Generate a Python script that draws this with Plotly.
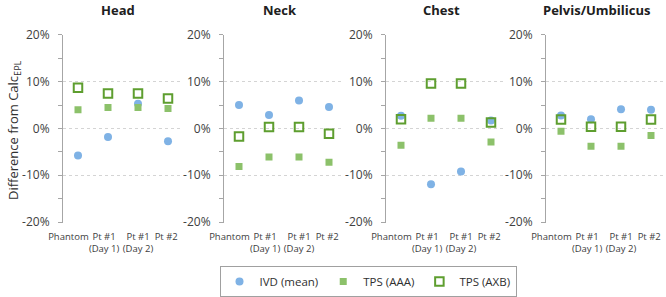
import plotly.graph_objects as go

panels = ["Head", "Neck", "Chest", "Pelvis/Umbilicus"]
categories = ["Phantom", "Pt #1<br>(Day 1)", "Pt #1<br>(Day 2)", "Pt #2"]

ivd_mean = {
    "Head": [-5.8, -1.8, 5.3, -2.7],
    "Neck": [5.0, 2.9, 6.0, 4.6],
    "Chest": [2.7, -11.9, -9.2, 1.7],
    "Pelvis/Umbilicus": [2.8, 2.0, 4.1, 4.0],
}
tps_aaa = {
    "Head": [4.0, 4.5, 4.5, 4.3],
    "Neck": [-8.1, -6.1, -6.1, -7.2],
    "Chest": [-3.6, 2.2, 2.2, -2.9],
    "Pelvis/Umbilicus": [-0.6, -3.8, -3.8, -1.5],
}
tps_axb = {
    "Head": [8.7, 7.5, 7.5, 6.4],
    "Neck": [-1.7, 0.3, 0.3, -1.1],
    "Chest": [2.0, 9.6, 9.6, 1.3],
    "Pelvis/Umbilicus": [1.9, 0.4, 0.4, 1.9],
}
y_tick_values = [-20, -10, 0, 10, 20]
y_tick_labels = ["-20%", "-10%", "0%", "10%", "20%"]

W, H = 666, 297
x_px = [(63, 183), (224, 344), (386, 506), (546, 666)]
title_cx = [118, 280, 441, 596]
y_px = (34.5, 222.5)
label_shift = [-0.32, -0.13, 0, -0.06]

fig = go.Figure()
FONT = "Open Sans"
c_ivd = "#7FB2E5"
c_aaa = "#8CC16A"
c_axb = "#5E9E2F"

for i, p in enumerate(panels):
    xa = "x" if i == 0 else f"x{i+1}"
    ya = "y" if i == 0 else f"y{i+1}"
    xs = list(range(len(categories)))
    fig.add_trace(go.Scatter(x=xs, y=ivd_mean[p], mode="markers", name="IVD (mean)",
                             marker=dict(symbol="circle", size=8, color=c_ivd),
                             xaxis=xa, yaxis=ya, showlegend=(i == 0), legendgroup="ivd"))
    fig.add_trace(go.Scatter(x=xs, y=tps_aaa[p], mode="markers", name="TPS (AAA)",
                             marker=dict(symbol="square", size=7, color=c_aaa),
                             xaxis=xa, yaxis=ya, showlegend=(i == 0), legendgroup="aaa"))
    fig.add_trace(go.Scatter(x=xs, y=tps_axb[p], mode="markers", name="TPS (AXB)",
                             marker=dict(symbol="square-open", size=8.5, color=c_axb,
                                         line=dict(width=2, color=c_axb)),
                             xaxis=xa, yaxis=ya, showlegend=(i == 0), legendgroup="axb"))
    x0, x1 = x_px[i]
    dom_x = [x0 / W, x1 / W]
    dom_y = [(H - y_px[1]) / H, (H - y_px[0]) / H]
    xkey = "xaxis" if i == 0 else f"xaxis{i+1}"
    ykey = "yaxis" if i == 0 else f"yaxis{i+1}"
    fig.layout[xkey] = dict(domain=dom_x, anchor=ya, range=[-0.5, 3.5],
                            tickmode="array", automargin=False, tickangle=0,
                            tickvals=[k + s for k, s in zip(xs, label_shift)],
                            ticktext=categories, showgrid=False, zeroline=False,
                            showline=False, ticks="", ticklabelstandoff=7,
                            tickfont=dict(family=FONT, size=9.5, color="#404040"))
    fig.layout[ykey] = dict(domain=dom_y, anchor=xa, range=[-20.1, 20.1],
                            tickmode="array", tickvals=y_tick_values, ticktext=y_tick_labels,
                            automargin=False,
                            showgrid=True, gridcolor="#D4D4D4", griddash="dot", gridwidth=1,
                            zeroline=False, showline=True, linecolor="#A6A6A6", linewidth=1,
                            ticks="outside", ticklen=4, tickcolor="#A6A6A6",
                            minor=dict(tickmode="linear", tick0=-20, dtick=5, ticks="outside",
                                       ticklen=4, tickcolor="#A6A6A6", showgrid=False),
                            ticklabelstandoff=6,
                            tickfont=dict(family=FONT, size=12, color="#404040"))
    fig.add_annotation(text=f"<b>{p}</b>", x=title_cx[i] / W, y=1 - 10 / H,
                       xref="paper", yref="paper", showarrow=False,
                       font=dict(family=FONT, size=13, color="#202020"),
                       xanchor="center", yanchor="middle")

fig.add_annotation(text="Difference from Calc<sub>EPL</sub>", x=14 / W, y=1 - 130 / H,
                   xref="paper", yref="paper", showarrow=False, textangle=-90,
                   font=dict(family=FONT, size=13, color="#303030"),
                   xanchor="center", yanchor="middle")

fig.update_layout(
    width=W, height=H, margin=dict(l=0, r=0, t=0, b=0),
    paper_bgcolor="white", plot_bgcolor="white",
    legend=dict(orientation="h", x=368 / W, xanchor="center", y=0, yanchor="bottom",
                bordercolor="#A0A0A0", borderwidth=1,
                font=dict(family=FONT, size=11.5, color="#303030"),
                itemwidth=30, tracegroupgap=0),
)
fig.write_html("out.html", post_script="document.body.style.margin='0';",
               config={"displayModeBar": False})
